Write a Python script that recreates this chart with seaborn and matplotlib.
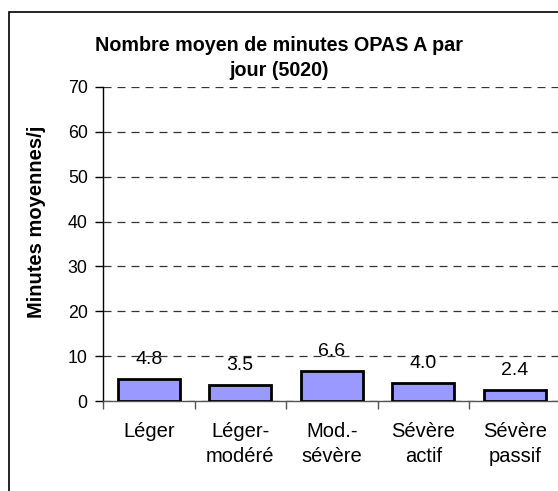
import matplotlib
matplotlib.use("Agg")
import matplotlib.pyplot as plt
from matplotlib.patches import Rectangle
import seaborn as sns
import pandas as pd

categories = ["Léger", "Léger-\nmodéré", "Mod.-\nsévère", "Sévère\nactif", "Sévère\npassif"]
values = [4.8, 3.5, 6.6, 4.0, 2.4]
y_ticks = [0, 10, 20, 30, 40, 50, 60, 70]
title = "Nombre moyen de minutes OPAS A par\njour (5020)"
y_label = "Minutes moyennes/j"

sns.set_theme(style="white")
plt.rcParams["font.family"] = ["Liberation Sans", "DejaVu Sans"]

W, H = 558, 491
fig = plt.figure(figsize=(W / 100, H / 100), dpi=100)
fig.patch.set_facecolor("white")

# outer chart frame
fig.patches.append(Rectangle((9 / W, -0.05), 1.1, 1 - 12 / H + 0.05,
                             transform=fig.transFigure, fill=False,
                             edgecolor="black", linewidth=1.2))

ax = fig.add_axes([103 / W, 90 / H, 457.5 / W, 314 / H])
ax.set_facecolor("none")

df = pd.DataFrame({"cat": categories, "val": values})
sns.barplot(data=df, x="cat", y="val", color="#9999FF", edgecolor="black",
            linewidth=2, width=0.68, saturation=1, ax=ax, zorder=3)

ax.set_xlim(-0.5, 4.5)
ax.set_ylim(0, 70)
ax.set_yticks(y_ticks)
ax.yaxis.grid(True, linestyle=(0, (6.4, 4.8)), color="#333333", linewidth=0.9)
ax.set_axisbelow(True)

for i, v in enumerate(values):
    ax.text(i, v + 4.4, f"{v:.1f}", ha="center", va="center", fontsize=14,
            color="black", zorder=4)

for s in ["top", "right"]:
    ax.spines[s].set_visible(False)
ax.spines["left"].set_color("black")
ax.spines["left"].set_linewidth(1)
ax.spines["bottom"].set_color("#555555")
ax.spines["bottom"].set_linewidth(1)

ax.tick_params(axis="y", which="major", left=True, length=6, width=1,
               color="black", labelsize=12.8, labelcolor="black", pad=5)
ax.set_xticks(range(len(categories)))
ax.set_xticklabels(categories, fontsize=14.5, color="black", linespacing=1.42)
ax.tick_params(axis="x", which="major", length=0, pad=15)
ax.set_xticks([i - 0.5 for i in range(len(categories) + 1)], minor=True)
ax.tick_params(axis="x", which="minor", bottom=True, length=6, width=1,
               color="#555555")

ax.set_xlabel("")
ax.set_ylabel("")
fig.text(37 / W, 1 - 222 / H, y_label, rotation=90, ha="center", va="center",
         fontsize=14.5, fontweight="bold", color="black")

fig.text(279 / W, 1 - 58 / H, title, ha="center", va="center", fontsize=14.2,
         fontweight="bold", color="black", linespacing=1.4)

fig.savefig("out.png", dpi=100)
